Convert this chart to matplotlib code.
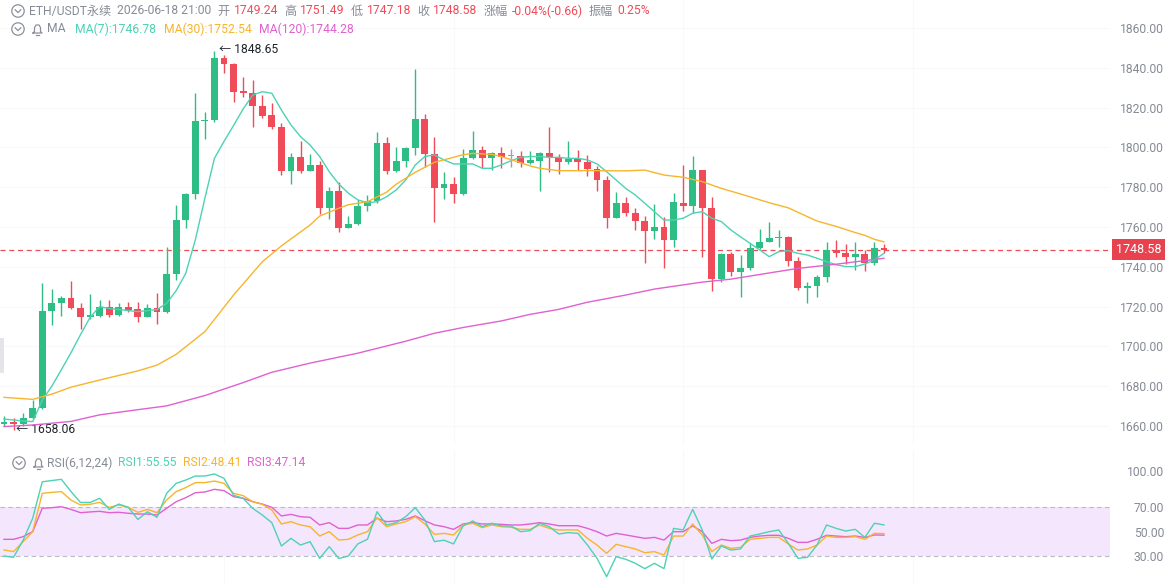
import numpy as np
import matplotlib.pyplot as plt
from matplotlib.patches import Circle, Rectangle

plt.rcParams['font.family'] = ['Roboto', 'Noto Sans CJK SC', 'DejaVu Sans']

# hourly candles
opens = [1661.0, 1662.0, 1661.0, 1664.2, 1668.9, 1717.8, 1721.6, 1724.5, 1719.5, 1714.6,
         1715.4, 1719.6, 1715.8, 1720.0, 1718.8, 1714.9, 1719.5, 1717.4, 1736.2, 1763.5,
         1776.6, 1813.1, 1813.8, 1844.8, 1841.7, 1828.3, 1827.2, 1821.0, 1816.3, 1810.4,
         1788.3, 1795.4, 1788.3, 1791.2, 1769.4, 1778.1, 1759.7, 1761.5, 1770.6, 1772.9,
         1802.4, 1788.3, 1793.3, 1799.5, 1814.4, 1796.7, 1779.4, 1781.6, 1776.6, 1794.8,
         1798.7, 1794.8, 1797.0, 1795.7, 1795.7, 1792.4, 1793.3, 1797.0, 1795.4, 1792.8,
         1794.0, 1792.8, 1789.1, 1783.6, 1764.7, 1771.9, 1767.2, 1763.2, 1758.2, 1759.8,
         1753.5, 1771.9, 1770.7, 1788.6, 1769.4, 1733.7, 1746.4, 1737.6, 1739.2, 1749.3,
         1752.6, 1754.3, 1754.8, 1743.1, 1729.2, 1730.4, 1734.7, 1748.5, 1746.8, 1745.1,
         1746.3, 1742.1, 1749.24]
highs = [1665.0, 1664.0, 1666.7, 1673.1, 1731.7, 1728.7, 1725.5, 1733.0, 1721.6, 1726.3,
         1723.3, 1723.3, 1722.0, 1722.5, 1722.5, 1721.2, 1726.7, 1749.8, 1771.1, 1777.0,
         1827.2, 1818.0, 1848.65, 1846.4, 1842.2, 1835.2, 1833.9, 1826.3, 1822.1, 1812.4,
         1797.0, 1803.0, 1796.7, 1793.3, 1780.3, 1782.8, 1765.5, 1773.6, 1776.1, 1807.9,
         1805.1, 1800.4, 1800.4, 1839.2, 1816.8, 1805.1, 1787.5, 1785.0, 1799.0, 1808.4,
         1800.7, 1797.8, 1800.0, 1799.0, 1798.4, 1798.4, 1797.8, 1810.1, 1796.7, 1803.4,
         1798.7, 1796.2, 1790.7, 1785.6, 1777.4, 1775.2, 1769.7, 1765.7, 1771.4, 1765.2,
         1777.3, 1791.2, 1795.7, 1788.6, 1775.2, 1747.1, 1747.3, 1745.9, 1751.8, 1759.0,
         1762.7, 1758.5, 1755.4, 1745.1, 1732.5, 1735.9, 1752.6, 1753.5, 1751.5, 1752.3,
         1748.5, 1752.3, 1751.49]
lows = [1660.0, 1658.06, 1660.0, 1663.5, 1668.3, 1710.8, 1715.4, 1718.6, 1708.6, 1713.6,
        1715.0, 1715.0, 1715.3, 1717.4, 1712.4, 1714.6, 1711.2, 1717.0, 1733.4, 1759.3,
        1773.9, 1804.0, 1813.0, 1837.2, 1823.0, 1825.2, 1810.4, 1814.6, 1809.1, 1786.1,
        1781.6, 1787.3, 1788.0, 1766.5, 1763.9, 1757.3, 1759.5, 1761.0, 1768.2, 1772.2,
        1786.5, 1787.8, 1790.3, 1796.2, 1790.3, 1762.7, 1774.1, 1772.2, 1776.0, 1794.0,
        1789.5, 1788.6, 1789.5, 1790.3, 1790.3, 1791.7, 1778.3, 1787.8, 1786.6, 1791.7,
        1788.6, 1785.6, 1778.3, 1759.3, 1764.4, 1765.5, 1758.5, 1742.1, 1753.8, 1739.6,
        1750.1, 1768.2, 1766.9, 1745.1, 1728.0, 1732.5, 1735.5, 1725.0, 1738.4, 1749.0,
        1752.5, 1749.8, 1740.4, 1728.4, 1721.6, 1724.6, 1732.2, 1745.0, 1741.4, 1738.4,
        1738.1, 1740.9, 1747.18]
closes = [1662.0, 1661.0, 1664.2, 1668.9, 1717.8, 1721.6, 1724.5, 1719.5, 1714.6, 1715.8,
          1719.6, 1715.8, 1719.6, 1718.3, 1714.9, 1719.5, 1717.4, 1736.2, 1763.5, 1776.6,
          1813.3, 1813.8, 1844.8, 1841.7, 1828.0, 1827.2, 1821.0, 1815.8, 1810.4, 1788.3,
          1795.4, 1788.3, 1791.2, 1769.4, 1778.1, 1759.7, 1761.5, 1770.6, 1772.9, 1802.4,
          1788.3, 1793.3, 1799.5, 1814.4, 1796.7, 1779.4, 1781.6, 1776.6, 1794.8, 1798.7,
          1794.8, 1797.0, 1795.0, 1795.7, 1792.4, 1793.7, 1797.0, 1795.4, 1792.8, 1794.0,
          1792.8, 1789.1, 1783.6, 1764.7, 1771.9, 1767.2, 1763.2, 1758.2, 1759.8, 1753.5,
          1772.4, 1770.7, 1788.6, 1769.4, 1733.7, 1746.4, 1737.6, 1739.2, 1749.3, 1752.6,
          1754.3, 1754.8, 1743.1, 1729.2, 1730.4, 1734.7, 1748.5, 1746.8, 1745.1, 1746.3,
          1742.1, 1749.3, 1748.58]

# moving averages
ma7 = [1663.5, 1663.0, 1662.5, 1662.2, 1673.0, 1680.0, 1688.3, 1696.8, 1705.9, 1714.6,
       1720.0, 1719.0, 1718.5, 1718.0, 1717.5, 1718.0, 1718.5, 1721.6, 1728.0, 1736.7,
       1753.5, 1774.4, 1794.5, 1803.0, 1811.0, 1819.3, 1826.3, 1828.0, 1827.2, 1818.8,
       1811.3, 1805.4, 1801.2, 1795.4, 1787.8, 1781.6, 1777.0, 1773.6, 1772.2, 1772.7,
       1775.2, 1778.6, 1783.6, 1791.2, 1795.4, 1796.2, 1793.7, 1791.7, 1791.7, 1791.7,
       1789.5, 1789.5, 1791.2, 1793.3, 1795.0, 1795.4, 1795.4, 1795.0, 1795.0, 1794.5,
       1794.5, 1793.7, 1791.7, 1787.8, 1783.6, 1779.4, 1776.1, 1771.9, 1767.7, 1763.5,
       1763.5, 1764.4, 1766.9, 1767.7, 1764.4, 1762.7, 1758.5, 1755.1, 1751.8, 1748.5,
       1745.1, 1747.6, 1748.1, 1746.8, 1745.9, 1744.3, 1742.6, 1741.0, 1740.1, 1740.1,
       1741.4, 1743.4, 1746.78]
ma30_idx = [0, 3, 5, 7, 10, 14, 16, 18, 21, 24, 27, 29, 32, 33, 35, 36, 38, 40, 41, 43,
            45, 48, 49, 51, 52, 54, 55, 56, 58, 62, 65, 67, 69, 71, 73, 75, 77, 80, 82, 85,
            87, 89, 90, 91, 92]
ma30 = [1674.4, 1673.4, 1676.0, 1679.5, 1683.1, 1687.7, 1690.6, 1696.0, 1707.4, 1725.8,
        1742.5, 1750.5, 1761.0, 1765.5, 1769.4, 1771.2, 1772.7, 1777.5, 1781.5, 1787.5,
        1792.5, 1796.3, 1797.0, 1796.5, 1795.4, 1792.3, 1790.7, 1789.5, 1788.3, 1788.3,
        1788.2, 1788.6, 1786.1, 1785.0, 1782.8, 1779.4, 1776.6, 1772.2, 1769.6, 1763.0,
        1760.3, 1757.2, 1755.8, 1753.8, 1752.54]
ma120_idx = [0, 3, 7, 10, 14, 17, 21, 25, 28, 32, 37, 42, 45, 48, 52, 55, 58, 61, 65, 68,
             73, 76, 80, 83, 87, 90, 92]
ma120 = [1659.7, 1660.5, 1662.3, 1665.6, 1668.2, 1670.1, 1675.3, 1681.8, 1687.0, 1691.6,
         1696.6, 1702.6, 1706.6, 1709.5, 1712.8, 1716.1, 1718.6, 1722.2, 1725.8, 1728.8,
         1732.3, 1733.8, 1736.9, 1739.2, 1741.3, 1743.1, 1744.28]

rsi1 = [30, 28.9, 43, 61, 91, 92, 93, 83, 74, 74, 77.4, 68.3, 72.7, 70, 60, 66.4, 61.8,
        81.5, 89.7, 92.4, 95.7, 95.7, 97.4, 93.8, 80, 77.4, 69.2, 63.7, 57.4, 38.2, 44.5,
        39, 41.8, 28, 37.7, 28, 30, 40, 43.7, 66.4, 55.5, 57.4, 62.3, 69.7, 59.6, 41.8, 43,
        39.9, 54.7, 58.8, 54.1, 56.9, 54.7, 54.7, 50, 50.8, 56.9, 54.1, 48.1, 49.2, 48.6,
        39, 28.1, 13, 29.5, 27.3, 24, 19.6, 24, 19.6, 52.7, 51.4, 68.3, 51.4, 27.5, 38.2,
        34.9, 35.8, 46.4, 48.1, 50, 51.4, 40.4, 28.1, 28.9, 39, 55.5, 52.7, 50.5, 51.9,
        45.3, 56.9, 55.55]
rsi2 = [35, 33.6, 41.8, 50, 81.5, 82.3, 82.9, 76, 71.9, 72.5, 74.1, 70, 71.9, 70, 65.9,
        68.3, 65.6, 76, 82.9, 86.2, 90.3, 90.3, 91.6, 89.7, 81.5, 79.6, 74.6, 72.5, 67.8,
        56.3, 58.2, 55.5, 54.1, 46.4, 50, 43.1, 43.7, 47.3, 50, 61.5, 54.1, 56.3, 58.2,
        62.3, 56.3, 47.8, 48.6,
        47.3, 55.5, 56.9, 53.3, 55.5, 54.1, 53.6, 51.9, 51.9, 55.5, 52.7, 51.4, 51.4, 51.4,
        44.5, 39, 32.2, 39.6, 37.7, 35.8, 32.7, 33.6, 30.8, 46.4, 46.4, 56.3, 47.3, 33.6,
        39, 36.3, 37.1, 43.7, 44.5, 45.3, 45.3, 39.9, 34.9, 35.8, 39, 46.4, 45.3, 45.3,
        45.9, 43.7, 48.6, 48.41]
rsi3 = [43.7, 43.7, 45.9, 50, 69.2, 69.7, 70.5, 68.3, 65.6, 66.2, 66.7, 65.6, 65.9, 65.1,
        64.5, 64.5, 63.7, 69.2, 74.6, 77.9, 82, 82.6, 84.8, 83.7, 78.8, 77.4, 74.6, 72.7,
        70, 62.9, 64.2, 62.3, 61.8, 55.5, 57.4, 52.7, 52.7, 55.5, 55.5, 61, 58.2, 58.8,
        60.1, 62.9, 59, 55.5, 54.1,
        51.9, 56.3, 57.4, 56.3, 56.3, 56, 55.5, 55.5, 56.3, 57.4, 56.3, 54.9, 54.9, 54.9,
        52.7, 50, 46.4, 48.6, 47.3, 45.9, 44.5, 45.3, 43.1, 50, 50, 54.7, 50, 40.4, 43.7,
        42.6, 43.1, 45.3, 46.4, 47, 47, 44.5, 41.2, 41.2, 43.7, 47, 46.4, 45.9, 46.4, 45.3,
        47.3, 47.14]

price_ticks = [1660, 1680, 1700, 1720, 1740, 1760, 1780, 1800, 1820, 1840, 1860]
rsi_ticks = [30, 50, 70, 100]
grid_idx = [23, 47, 71, 95]

GREEN = '#2ebd85'
RED = '#ef4b58'
DOJI = '#9aa3ae'
C7 = '#4dd2b4'
C30 = '#f7b52c'
C120 = '#e061cf'
GRAY = '#868b95'
FS = 8.7

W, H = 1167, 585
fig = plt.figure(figsize=(W / 100, H / 100), dpi=100)
ax = fig.add_axes([0, 140 / H, 1110 / W, 445 / H])
rax = fig.add_axes([0, 0, 1110 / W, 135 / H])

n = len(opens)
x = np.arange(n)
o = np.array(opens); c = np.array(closes)
hi = np.array(highs); lo = np.array(lows)
col = np.where(c > o, GREEN, np.where(c < o, RED, DOJI))

for a in (ax, rax):
    for g in grid_idx:
        a.axvline(g, color='#f8f9fa', lw=0.8, zorder=0)

for p in price_ticks:
    ax.axhline(p, color='#f9f9fa', lw=0.8, zorder=0)

ax.vlines(x, lo, hi, colors=col, lw=1.0, zorder=2)
body = np.maximum(np.abs(c - o), 0.5)
ax.bar(x, body, bottom=np.minimum(o, c), width=0.72, color=col, zorder=3)

ax.plot(x, ma7, color=C7, lw=1.0, zorder=4)
ax.plot(ma30_idx, ma30, color=C30, lw=1.0, zorder=4)
ax.plot(ma120_idx, ma120, color=C120, lw=1.0, zorder=4)

last = closes[-1]
ax.axhline(last, color=RED, lw=0.9, ls=(0, (4, 3)), zorder=1)
ax.annotate(f'{last:.2f}', xy=(1.0, last), xycoords=('axes fraction', 'data'),
            xytext=(4, 0), textcoords='offset points', ha='left', va='center',
            color='white', fontsize=9, annotation_clip=False,
            bbox=dict(boxstyle='square,pad=0.3', fc='#e8424f', ec='none'))

imax = int(np.argmax(hi)); imin = int(np.argmin(lo))
ax.annotate(f'\u2190 {hi[imax]:.2f}', xy=(imax, hi[imax]), xytext=(3, 1),
            textcoords='offset points', ha='left', va='center', fontsize=FS, color='#1e2329')
ax.annotate(f'\u2190 {lo[imin]:.2f}', xy=(imin, lo[imin]), xytext=(2, 0),
            textcoords='offset points', ha='left', va='center', fontsize=FS, color='#1e2329')

ax.set_xlim(-0.418, 115.63)
ax.set_ylim(1650.45, 1874.07)

# rsi panel
rax.axhspan(30, 70, color='#f4e6fd', lw=0, zorder=0)
for lvl in (30, 70):
    rax.axhline(lvl, color='#b9bcc4', lw=0.8, ls=(0, (4, 3)), zorder=1)
rax.plot(x, rsi3, color=C120, lw=1.0, zorder=3)
rax.plot(x, rsi2, color=C30, lw=1.0, zorder=3)
rax.plot(x, rsi1, color=C7, lw=1.0, zorder=4)
rax.set_xlim(-0.418, 115.63)
rax.set_ylim(6.17, 117.1)

for a, ticks in ((ax, price_ticks), (rax, rsi_ticks)):
    a.set_xticks([])
    a.yaxis.tick_right()
    a.set_yticks(ticks)
    a.set_yticklabels([f'{t:.2f}' for t in ticks])
    a.tick_params(axis='y', length=0, pad=39, labelsize=8.7, labelcolor=GRAY)
    for lab in a.get_yticklabels():
        lab.set_horizontalalignment('right')
    for s in a.spines.values():
        s.set_visible(False)
    a.set_facecolor('none')

# header overlay in pixel units
ov = fig.add_axes([0, 0, 1, 1], zorder=10)
ov.set_xlim(0, W); ov.set_ylim(H, 0); ov.axis('off'); ov.patch.set_alpha(0)
renderer = fig.canvas.get_renderer()


def circle_icon(cx, cy):
    ov.add_patch(Circle((cx, cy), 6.2, fill=False, ec='#8c9099', lw=0.9))
    ov.plot([cx - 2.8, cx, cx + 2.8], [cy - 1.2, cy + 1.6, cy - 1.2], color='#8c9099', lw=0.9)


def bell_icon(cx, cy):
    ov.plot([cx - 4.5, cx - 3, cx - 3, cx - 1.5, cx + 1.5, cx + 3, cx + 3, cx + 4.5, cx - 4.5],
            [cy + 4, cy + 2.5, cy - 1.5, cy - 4, cy - 4, cy - 1.5, cy + 2.5, cy + 4, cy + 4],
            color='#8c9099', lw=0.9)
    ov.plot([cx - 1.5, cx + 1.5], [cy + 5.5, cy + 5.5], color='#8c9099', lw=0.9)


def flow(items, x0, y):
    # items: (text, colour, gap after)
    xx = x0
    for txt, cc, gap in items:
        t = ov.text(xx, y, txt, color=cc, fontsize=FS, ha='left', va='center')
        xx += t.get_window_extent(renderer).width + gap


circle_icon(18, 11)
flow([('ETH/USDT永续', GRAY, 6), ('2026-06-18 21:00', GRAY, 6),
      ('开', GRAY, 4), (f'{opens[-1]:.2f}', RED, 6),
      ('高', GRAY, 4), (f'{highs[-1]:.2f}', RED, 6),
      ('低', GRAY, 4), (f'{lows[-1]:.2f}', RED, 6),
      ('收', GRAY, 4), (f'{closes[-1]:.2f}', RED, 6),
      ('涨幅', GRAY, 4), ('-0.04%(-0.66)', RED, 6),
      ('振幅', GRAY, 4), ('0.25%', RED, 0)], 29, 11)

circle_icon(18, 29)
bell_icon(37.5, 29)
flow([('MA', GRAY, 9), (f'MA(7):{ma7[-1]:.2f}', C7, 8),
      (f'MA(30):{ma30[-1]:.2f}', C30, 7),
      (f'MA(120):{ma120[-1]:.2f}', C120, 0)], 47, 29)

circle_icon(19, 463)
bell_icon(38.5, 463)
flow([('RSI(6,12,24)', GRAY, 6), (f'RSI1:{rsi1[-1]:.2f}', C7, 6),
      (f'RSI2:{rsi2[-1]:.2f}', C30, 6), (f'RSI3:{rsi3[-1]:.2f}', C120, 0)], 47, 463)

ov.add_patch(Rectangle((0, 338), 4, 35, fc='#e4e5e8', ec='none'))

fig.savefig('out.png', dpi=100)
